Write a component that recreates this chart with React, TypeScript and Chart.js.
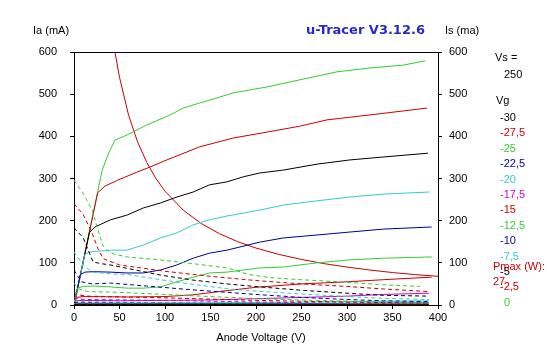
import React, { useEffect, useRef } from "react";
import { Chart, registerables } from "chart.js";
Chart.register(...registerables);

const W = 547;
const H = 357;

const vgLabels = ["-30", "-27,5", "-25", "-22,5", "-20", "-17,5", "-15", "-12,5", "-10", "-7,5", "-5", "-2,5", "0"];
const vgColors = ["#000000", "#cc0000", "#33cc33", "#000099", "#33cccc", "#cc00cc", "#cc0000", "#33cc33", "#000099", "#33cccc", "#000000", "#cc0000", "#33cc33"];

// Anode current Ia (mA) vs anode voltage (V), one list per grid voltage
const iaM30: [number, number][] = [[0, 0], [390, 0.5]];
const iaM27_5: [number, number][] = [[0, 0], [1, 1], [390, 1.5]];
const iaM25: [number, number][] = [[0, 0], [1, 1.5], [200, 2], [390, 3]];
const iaM22_5: [number, number][] = [[0, 0], [1, 3], [100, 3], [200, 3], [300, 4], [390, 5]];
const iaM20: [number, number][] = [[0, 0], [1, 5], [50, 5], [100, 5], [200, 6], [300, 8], [390, 10]];
const iaM17_5: [number, number][] = [[0, 0], [2, 10], [10, 11], [50, 10], [100, 11], [150, 12], [200, 15], [250, 18], [300, 21], [340, 25], [390, 28]];
const iaM15: [number, number][] = [[0, 0], [3, 18], [10, 20], [60, 19], [100, 20], [130, 24], [160, 32], [200, 42], [250, 50], [300, 55], [340, 60], [393, 66]];
const iaM12_5: [number, number][] = [[0, 0], [4, 40], [10, 44], [21, 45], [40, 43], [58, 40], [76, 40], [95, 43], [113, 55], [131, 66], [149, 76], [168, 78], [204, 88], [230, 90], [267, 100], [303, 107], [340, 111], [393, 114]];
const iaM10: [number, number][] = [[0, 0], [7, 72], [12, 78], [21, 79], [40, 78], [58, 76], [76, 76], [95, 83], [113, 95], [131, 111], [149, 123], [168, 130], [204, 149], [230, 159], [267, 166], [303, 173], [340, 180], [393, 185]];
const iaM7_5: [number, number][] = [[0, 0], [12, 120], [16, 125], [22, 127], [30, 128], [40, 130], [58, 130], [76, 142], [95, 159], [113, 171], [131, 190], [149, 202], [168, 211], [204, 225], [230, 237], [267, 247], [303, 256], [340, 263], [391, 268]];
const iaM5: [number, number][] = [[0, 0], [17, 172], [23, 185], [40, 202], [58, 213], [76, 230], [95, 242], [113, 256], [131, 268], [149, 285], [168, 292], [186, 304], [204, 313], [230, 320], [267, 334], [303, 344], [340, 351], [389, 360]];
const iaM2_5: [number, number][] = [[0, 0], [26, 266], [34, 282], [48, 296], [69, 315], [81, 325], [102, 344], [138, 375], [175, 396], [212, 410], [248, 424], [278, 439], [330, 452], [388, 467]];
const ia0: [number, number][] = [[0, 0], [31, 320], [38, 360], [45, 391], [58, 403], [80, 427], [105, 450], [120, 467], [138, 479], [157, 491], [175, 503], [193, 510], [212, 517], [248, 534], [289, 553], [325, 562], [362, 569], [386, 579]];

// Screen current Is (mA) vs anode voltage (V)
const isM30: [number, number][] = [[0, 1], [390, 0.3]];
const isM27_5: [number, number][] = [[0, 2], [390, 0.5]];
const isM25: [number, number][] = [[0, 3], [200, 2], [390, 1]];
const isM22_5: [number, number][] = [[0, 6], [5, 5], [200, 3], [390, 1.5]];
const isM20: [number, number][] = [[0, 10], [5, 8], [100, 6], [200, 4], [390, 2]];
const isM17_5: [number, number][] = [[0, 18], [5, 14], [15, 13], [100, 11], [200, 7], [300, 4], [390, 3]];
const isM15: [number, number][] = [[0, 31], [5, 24], [15, 21], [100, 17], [200, 11], [300, 7], [390, 4]];
const isM12_5: [number, number][] = [[0, 52], [5, 38], [15, 32], [50, 30], [100, 25], [150, 20], [200, 15], [300, 9], [390, 6]];
const isM10: [number, number][] = [[0, 83], [8, 55], [20, 50], [40, 52], [80, 45], [130, 36], [200, 25], [250, 18], [300, 13], [340, 10], [390, 8]];
const isM7_5: [number, number][] = [[0, 126], [10, 95], [20, 78], [40, 74], [60, 72], [110, 55], [170, 38], [200, 33], [250, 26], [300, 20], [340, 16], [390, 13]];
const isM5: [number, number][] = [[0, 183], [10, 160], [21, 102], [30, 98], [40, 95], [95, 71], [131, 59], [168, 50], [204, 43], [250, 35], [300, 28], [340, 23], [390, 21]];
const isM2_5: [number, number][] = [[0, 240], [10, 215], [20, 170], [27, 130], [32, 110], [50, 95], [100, 80], [150, 68], [200, 58], [250, 50], [300, 44], [340, 38], [388, 32]];
const is0: [number, number][] = [[0, 296], [10, 265], [20, 225], [26, 180], [32, 140], [40, 123], [58, 114], [95, 107], [131, 98], [168, 88], [193, 72], [215, 65], [250, 60], [300, 54], [340, 48], [380, 44]];

// Maximum anode dissipation (27 W) curve
const pmaxV = [45, 50, 60, 70, 80, 90, 100, 120, 140, 160, 180, 200, 225, 250, 275, 300, 325, 350, 375, 400];
const pmaxI = [600, 540, 450, 386, 338, 300, 270, 225, 193, 169, 150, 135, 120, 108, 98, 90, 83, 77, 72, 68];

const iaCurves = [iaM30, iaM27_5, iaM25, iaM22_5, iaM20, iaM17_5, iaM15, iaM12_5, iaM10, iaM7_5, iaM5, iaM2_5, ia0];
const isCurves = [isM30, isM27_5, isM25, isM22_5, isM20, isM17_5, isM15, isM12_5, isM10, isM7_5, isM5, isM2_5, is0];

const FONT = "'Liberation Sans', Arial, sans-serif";

export default function App() {
  const ref = useRef<HTMLCanvasElement>(null);
  useEffect(() => {
    if (!ref.current) return;
    const datasets: any[] = [];
    isCurves.forEach((c, i) => {
      datasets.push({
        data: c.map(([x, y]) => ({ x, y })),
        borderColor: vgColors[i],
        borderWidth: 1,
        borderDash: [4, 3],
        pointRadius: 0,
        yAxisID: "y2",
      });
    });
    iaCurves.forEach((c, i) => {
      datasets.push({
        data: c.map(([x, y]) => ({ x, y })),
        borderColor: vgColors[i],
        borderWidth: 1,
        pointRadius: 0,
        yAxisID: "y",
      });
    });
    datasets.push({
      data: pmaxV.map((x, i) => ({ x, y: pmaxI[i] })),
      borderColor: "#cc0000",
      borderWidth: 1,
      pointRadius: 0,
      yAxisID: "y",
    });

    const textPlugin = {
      id: "texts",
      beforeDraw(chart: any) {
        const ctx = chart.ctx;
        ctx.save();
        ctx.fillStyle = "#fff";
        ctx.fillRect(0, 0, W, H);
        ctx.restore();
      },
      afterDraw(chart: any) {
        const ctx = chart.ctx;
        const a = chart.chartArea;
        ctx.save();
        ctx.strokeStyle = "#000";
        ctx.lineWidth = 1;
        ctx.beginPath();
        ctx.moveTo(Math.round(a.left) - 0.5, Math.round(a.top) + 0.5);
        ctx.lineTo(Math.round(a.right) + 0.5, Math.round(a.top) + 0.5);
        ctx.stroke();

        ctx.textBaseline = "middle";
        ctx.font = `11px ${FONT}`;
        ctx.fillStyle = "#000";
        ctx.textAlign = "left";
        ctx.fillText("Ia (mA)", 33, 31);
        ctx.fillText("Is (ma)", 445, 31);
        ctx.textAlign = "center";
        ctx.fillText("Anode Voltage (V)", 261, 338);
        ctx.textAlign = "left";
        ctx.fillText("Vs =", 495, 58);
        ctx.fillText("250", 504, 75);
        ctx.fillText("Vg", 496, 101);
        vgLabels.forEach((l, i) => {
          ctx.fillStyle = vgColors[i];
          ctx.fillText(l, l === "0" ? 504 : 500, 118 + i * 15.4);
        });
        ctx.fillStyle = "#cc0000";
        ctx.fillText("Pmax (W):", 493, 267);
        ctx.fillText("27", 493, 282);

        ctx.font = `bold 13px 'DejaVu Sans', sans-serif`;
        ctx.fillStyle = "#2828c8";
        ctx.fillText("u-Tracer V3.12.6", 306, 31);
        ctx.restore();
      },
    };

    const tickFont = { family: FONT, size: 11 };
    const chart = new Chart(ref.current, {
      type: "line",
      data: { datasets },
      options: {
        animation: false,
        responsive: false,
        devicePixelRatio: 1,
        layout: { padding: { top: 52, left: 0, right: 0, bottom: 0 } },
        plugins: { legend: { display: false }, tooltip: { enabled: false }, title: { display: false } },
        scales: {
          x: {
            type: "linear",
            min: 0,
            max: 400,
            ticks: { stepSize: 50, color: "#000", font: tickFont, padding: 2, maxRotation: 0 },
            grid: { drawOnChartArea: false, drawTicks: true, tickLength: 4, color: "#000" },
            border: { color: "#000", width: 1 },
            afterFit: (s: any) => { s.height = 52; },
          },
          y: {
            position: "left",
            min: 0,
            max: 600,
            ticks: { stepSize: 100, color: "#000", font: tickFont, padding: 13 },
            grid: { drawOnChartArea: false, drawTicks: true, tickLength: 4, color: "#000" },
            border: { color: "#000", width: 1 },
            afterFit: (s: any) => { s.width = 74; },
          },
          y2: {
            position: "right",
            min: 0,
            max: 600,
            ticks: { stepSize: 100, color: "#000", font: tickFont, padding: 7 },
            grid: { drawOnChartArea: false, drawTicks: true, tickLength: 4, color: "#000" },
            border: { color: "#000", width: 1 },
            afterFit: (s: any) => { s.width = 109; },
          },
        },
      } as any,
      plugins: [textPlugin],
    });
    return () => chart.destroy();
  }, []);

  return (
    <div style={{ position: "fixed", left: 0, top: 0, width: W, height: H, background: "#fff" }}>
      <canvas ref={ref} width={W} height={H} style={{ display: "block", width: W, height: H }} />
    </div>
  );
}
